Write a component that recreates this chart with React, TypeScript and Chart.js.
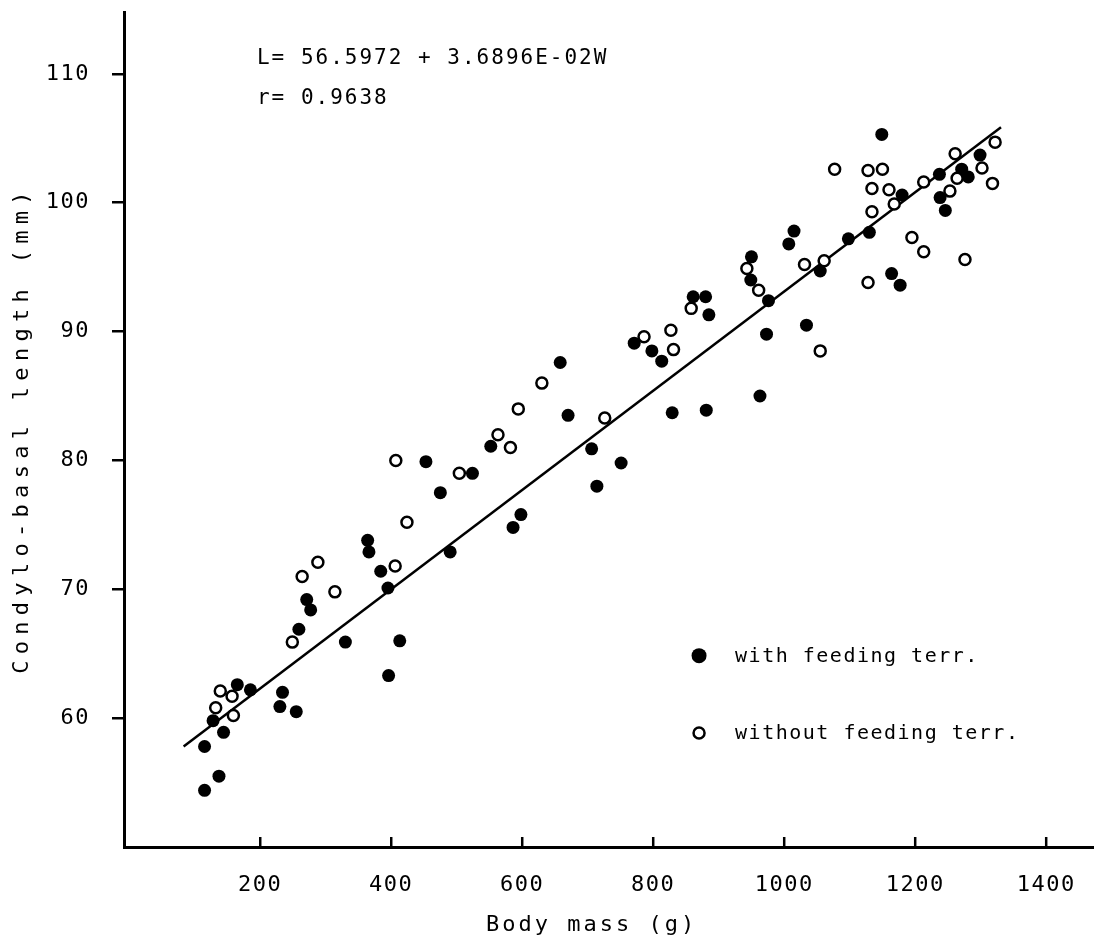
import React, { useEffect, useRef } from "react";
import { Chart, registerables } from "chart.js";
Chart.register(...registerables);

// with feeding territory (filled dots)
const withX = [115, 115, 137, 144, 128, 165, 185, 234, 230, 255, 259, 271, 277, 330, 364, 366, 384, 395, 413, 396,
  490, 453, 475, 524, 552, 658, 670, 706, 751, 714, 598, 586, 771, 798, 813, 829, 881, 885, 861, 880,
  976, 973, 1034, 963, 950, 949, 1015, 1007, 1055, 1098, 1130, 1149, 1180, 1164, 1177, 1237, 1238, 1246, 1271, 1281, 1299];
const withY = [57.8, 54.4, 55.5, 58.9, 59.8, 62.6, 62.2, 62.0, 60.9, 60.5, 66.9, 69.2, 68.4, 65.9, 73.8, 72.9, 71.4, 70.1, 66.0, 63.3,
  72.9, 79.9, 77.5, 79.0, 81.1, 87.6, 83.5, 80.9, 79.8, 78.0, 75.8, 74.8, 89.1, 88.5, 87.7, 83.7, 83.9, 91.3, 92.7, 92.7,
  92.4, 89.8, 90.5, 85.0, 95.8, 94.0, 97.8, 96.8, 94.7, 97.2, 97.7, 105.3, 100.6, 94.5, 93.6, 102.2, 100.4, 99.4, 102.6, 102.0, 103.7];

// without feeding territory (open circles)
const withoutX = [132, 139, 157, 159, 249, 264, 288, 314, 406, 424, 407, 504, 563, 582, 594, 630, 726, 786, 827, 831,
  858, 943, 961, 1031, 1061, 1055, 1077, 1128, 1150, 1134, 1134, 1160, 1168, 1128, 1195, 1213, 1276, 1213, 1253, 1261, 1264, 1302, 1318, 1322];
const withoutY = [60.8, 62.1, 61.7, 60.2, 65.9, 71.0, 72.1, 69.8, 71.8, 75.2, 80.0, 79.0, 82.0, 81.0, 84.0, 86.0, 83.3, 89.6, 90.1, 88.6,
  91.8, 94.9, 93.2, 95.2, 95.5, 88.5, 102.6, 102.5, 102.6, 101.1, 99.3, 101.0, 99.9, 93.8, 97.3, 96.2, 95.6, 101.6, 100.9, 103.8, 101.9, 102.7, 101.5, 104.7];

// regression line as drawn
const fitX = [83, 1331];
const fitY = [57.8, 105.85];

const xTicks = [200, 400, 600, 800, 1000, 1200, 1400];
const yTicks = [60, 70, 80, 90, 100, 110];

const equationLines = ["L= 56.5972 + 3.6896E-02W", "r= 0.9638"];
const legendLabels = ["with feeding terr.", "without feeding terr."];
const xTitle = "Body mass (g)";
const yTitle = "Condylo-basal length (mm)";

const FONT = '"DejaVu Sans Mono", "Liberation Mono", monospace';

export default function App() {
  const ref = useRef<HTMLCanvasElement | null>(null);
  useEffect(() => {
    const canvas = ref.current!;
    const textPlugin = {
      id: "textPlugin",
      beforeDraw(chart: any) {
        const ctx = chart.ctx;
        ctx.fillStyle = "#fff";
        ctx.fillRect(0, 0, chart.width, chart.height);
        (ctx as any).letterSpacing = "1.5px";
      },
      afterDatasetsDraw(chart: any) {
        const ctx = chart.ctx;
        const xs = chart.scales.x;
        const ys = chart.scales.y;
        const area = chart.chartArea;
        ctx.save();
        // inside tick marks on x axis
        ctx.strokeStyle = "#000";
        ctx.lineWidth = 2.5;
        xTicks.forEach((v) => {
          const px = xs.getPixelForValue(v);
          ctx.beginPath();
          ctx.moveTo(px, area.bottom);
          ctx.lineTo(px, area.bottom - 10);
          ctx.stroke();
        });
        ctx.fillStyle = "#000";
        // equation
        (ctx as any).letterSpacing = "2px";
        ctx.font = `21px ${FONT}`;
        ctx.textAlign = "left";
        ctx.textBaseline = "middle";
        ctx.fillText(equationLines[0], xs.getPixelForValue(195), ys.getPixelForValue(111.2));
        ctx.fillText(equationLines[1], xs.getPixelForValue(195), ys.getPixelForValue(108.1));
        // legend
        (ctx as any).letterSpacing = "1.5px";
        ctx.font = `20px ${FONT}`;
        const lx = xs.getPixelForValue(870);
        const tx = xs.getPixelForValue(925);
        const ly1 = ys.getPixelForValue(64.85);
        const ly2 = ys.getPixelForValue(58.85);
        ctx.beginPath();
        ctx.arc(lx, ly1, 7.5, 0, Math.PI * 2);
        ctx.fill();
        ctx.beginPath();
        ctx.arc(lx, ly2, 5.5, 0, Math.PI * 2);
        ctx.lineWidth = 2.5;
        ctx.stroke();
        ctx.fillText(legendLabels[0], tx, ly1 + 1);
        ctx.fillText(legendLabels[1], tx, ly2 + 1);
        // axis titles
        ctx.font = `22px ${FONT}`;
        (ctx as any).letterSpacing = "3px";
        ctx.textAlign = "center";
        ctx.fillText(xTitle, xs.getPixelForValue(706), chart.height - 16);
        ctx.save();
        ctx.translate(22, (area.top + area.bottom) / 2);
        ctx.rotate(-Math.PI / 2);
        (ctx as any).letterSpacing = "6.3px";
        ctx.fillText(yTitle, 0, 0);
        ctx.restore();
        ctx.restore();
      },
      afterDraw(chart: any) {
        (chart.ctx as any).letterSpacing = "0px";
      },
    };

    const chart = new Chart(canvas, {
      type: "scatter",
      data: {
        datasets: [
          {
            label: legendLabels[0],
            data: withX.map((x, i) => ({ x, y: withY[i] })),
            pointRadius: 6.5,
            pointBackgroundColor: "#000",
            pointBorderWidth: 0,
            borderColor: "#000",
            backgroundColor: "#000",
            order: 2,
          },
          {
            label: legendLabels[1],
            data: withoutX.map((x, i) => ({ x, y: withoutY[i] })),
            pointRadius: 5.5,
            pointBackgroundColor: "#fff",
            pointBorderColor: "#000",
            pointBorderWidth: 2.5,
            order: 1,
          },
          {
            type: "line",
            label: "fit",
            data: fitX.map((x, i) => ({ x, y: fitY[i] })),
            borderColor: "#000",
            borderWidth: 2.5,
            pointRadius: 0,
            showLine: true,
            fill: false,
            order: 3,
          } as any,
        ],
      },
      options: {
        animation: false,
        responsive: false,
        maintainAspectRatio: false,
        events: [],
        layout: { autoPadding: false, padding: { top: 12, left: 0, right: 0, bottom: 0 } },
        plugins: { legend: { display: false }, tooltip: { enabled: false } },
        scales: {
          x: {
            type: "linear",
            min: -8,
            max: 1473,
            afterBuildTicks: (s: any) => {
              s.ticks = xTicks.map((v) => ({ value: v }));
            },
            afterFit: (s: any) => {
              s.height = 94;
              s.paddingLeft = 0;
              s.paddingRight = 0;
            },
            grid: { display: false, drawTicks: false },
            border: { display: true, color: "#000", width: 3 },
            ticks: {
              color: "#000",
              font: { family: FONT, size: 22 },
              padding: 25,
              maxRotation: 0,
              autoSkip: false,
              callback: (v: any) => String(v),
            },
          },
          y: {
            type: "linear",
            min: 50,
            max: 114.8,
            afterBuildTicks: (s: any) => {
              s.ticks = yTicks.map((v) => ({ value: v }));
            },
            afterFit: (s: any) => {
              s.width = 124;
              s.paddingTop = 0;
              s.paddingBottom = 0;
            },
            grid: { display: true, drawOnChartArea: false, drawTicks: true, tickLength: 12, color: "#000", lineWidth: 2.5 },
            border: { display: true, color: "#000", width: 3 },
            ticks: {
              color: "#000",
              font: { family: FONT, size: 22 },
              padding: 22,
              autoSkip: false,
              callback: (v: any) => String(v),
            },
          },
        },
      },
      plugins: [textPlugin],
    });
    return () => chart.destroy();
  }, []);
  return (
    <div style={{ position: "absolute", left: 0, top: 0, width: 1094, height: 941, background: "#fff" }}>
      <canvas ref={ref} width={1094} height={941} style={{ width: 1094, height: 941 }} />
    </div>
  );
}
